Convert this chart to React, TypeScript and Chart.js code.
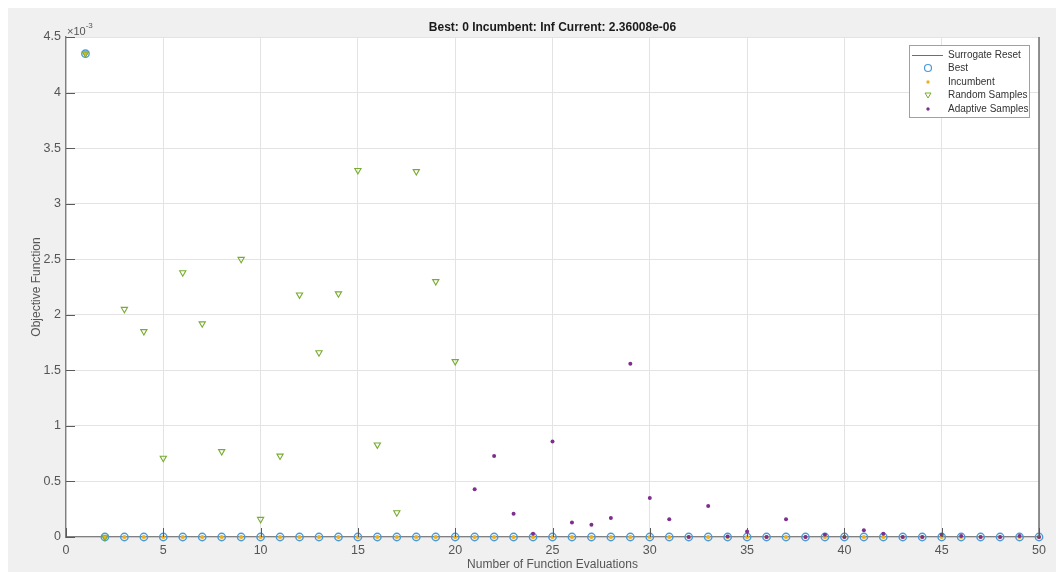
import React, { useEffect, useRef } from "react";
import { Chart, registerables } from "chart.js";

Chart.register(...registerables);

if (typeof document !== "undefined") {
  document.body.style.margin = "8px 0 0 8px";
  document.body.style.overflow = "hidden";
}

const titleText = "Best: 0 Incumbent: Inf Current: 2.36008e-06";
const xAxisLabel = "Number of Function Evaluations";
const yAxisLabel = "Objective Function";
const yExponentBase = "\u00d710";
const yExponent = "-3";

const xMin = 0;
const xMax = 50;
const xStep = 5;
const yMin = 0;
const yMax = 4.5;
const yStep = 0.5;

const seriesLabels = ["Surrogate Reset", "Best", "Incumbent", "Random Samples", "Adaptive Samples"];

// values in units of 1e-3
const resetEvals = [50, 50];
const resetValues = [0, 4.5];

const bestEvals = [1, 2, 3, 4, 5, 6, 7, 8, 9, 10, 11, 12, 13, 14, 15, 16, 17, 18, 19, 20, 21, 22, 23, 24, 25, 26, 27, 28, 29, 30, 31, 32, 33, 34, 35, 36, 37, 38, 39, 40, 41, 42, 43, 44, 45, 46, 47, 48, 49, 50];
const bestValues = [4.35, 0, 0, 0, 0, 0, 0, 0, 0, 0, 0, 0, 0, 0, 0, 0, 0, 0, 0, 0, 0, 0, 0, 0, 0, 0, 0, 0, 0, 0, 0, 0, 0, 0, 0, 0, 0, 0, 0, 0, 0, 0, 0, 0, 0, 0, 0, 0, 0, 0];

const incumbentEvals = [1, 2, 3, 4, 5, 6, 7, 8, 9, 10, 11, 12, 13, 14, 15, 16, 17, 18, 19, 20, 21, 22, 23, 24, 25, 26, 27, 28, 29, 30, 31, 32, 33, 34, 35, 36, 37, 38, 39, 40, 41, 42, 43, 44, 45, 46, 47, 48, 49, 50];
const incumbentValues = [4.35, 0, 0, 0, 0, 0, 0, 0, 0, 0, 0, 0, 0, 0, 0, 0, 0, 0, 0, 0, 0, 0, 0, 0, 0, 0, 0, 0, 0, 0, 0, 0, 0, 0, 0, 0, 0, 0, 0, 0, 0, 0, 0, 0, 0, 0, 0, 0, 0, 0];

const randomEvals = [1, 2, 3, 4, 5, 6, 7, 8, 9, 10, 11, 12, 13, 14, 15, 16, 17, 18, 19, 20];
const randomValues = [4.35, 0, 2.05, 1.85, 0.71, 2.38, 1.92, 0.77, 2.5, 0.16, 0.73, 2.18, 1.66, 2.19, 3.3, 0.83, 0.22, 3.29, 2.3, 1.58];

const adaptiveEvals = [21, 22, 23, 24, 25, 26, 27, 28, 29, 30, 31, 32, 33, 34, 35, 36, 37, 38, 39, 40, 41, 42, 43, 44, 45, 46, 47, 48, 49, 50];
const adaptiveValues = [0.43, 0.73, 0.21, 0.03, 0.86, 0.13, 0.11, 0.17, 1.56, 0.35, 0.16, 0, 0.28, 0.005, 0.05, 0, 0.16, 0, 0.02, 0, 0.06, 0.03, 0, 0, 0.02, 0.01, 0, 0, 0.01, 0];

const FONT = "'Liberation Sans', Arial, Helvetica, sans-serif";
const TEXT = "#555555";

const pts = (xs: number[], ys: number[]) => xs.map((x, i) => ({ x, y: ys[i] }));

const decorPlugin = {
  id: "decor",
  beforeDraw(chart: any) {
    const { ctx, width, height, chartArea } = chart;
    ctx.save();
    ctx.fillStyle = "#f0f0f0";
    ctx.fillRect(0, 0, width, height);
    ctx.fillStyle = "#ffffff";
    ctx.fillRect(chartArea.left, chartArea.top, chartArea.right - chartArea.left, chartArea.bottom - chartArea.top);
    ctx.restore();
  },
  afterDraw(chart: any) {
    const { ctx, chartArea, scales } = chart;
    const xs = scales.x;
    const ys = scales.y;
    ctx.save();
    // inward ticks
    ctx.strokeStyle = "#5a5a5a";
    ctx.lineWidth = 1;
    xs.ticks.forEach((t: any) => {
      const px = Math.round(xs.getPixelForValue(t.value)) + 0.5;
      ctx.beginPath();
      ctx.moveTo(px, chartArea.bottom);
      ctx.lineTo(px, chartArea.bottom - 9);
      ctx.stroke();
    });
    ys.ticks.forEach((t: any) => {
      const py = Math.round(ys.getPixelForValue(t.value)) + 0.5;
      ctx.beginPath();
      ctx.moveTo(chartArea.left, py);
      ctx.lineTo(chartArea.left + 9, py);
      ctx.stroke();
    });
    // title
    ctx.fillStyle = "#1a1a1a";
    ctx.font = `bold 12px ${FONT}`;
    ctx.textAlign = "center";
    ctx.textBaseline = "middle";
    ctx.fillText(titleText, (chartArea.left + chartArea.right) / 2, 20);
    // exponent
    ctx.fillStyle = TEXT;
    ctx.textAlign = "left";
    ctx.font = `11px ${FONT}`;
    ctx.fillText(yExponentBase, chartArea.left + 1, chartArea.top - 5);
    const bw = ctx.measureText(yExponentBase).width;
    ctx.font = `8px ${FONT}`;
    ctx.fillText(yExponent, chartArea.left + 1 + bw, chartArea.top - 11);

    // legend
    const lx = 901, ly = 37, lw = 120, lh = 72;
    ctx.fillStyle = "#ffffff";
    ctx.fillRect(lx, ly, lw, lh);
    ctx.strokeStyle = "#a0a0a0";
    ctx.lineWidth = 1;
    ctx.strokeRect(lx + 0.5, ly + 0.5, lw, lh);
    const rowY = [47, 60, 74, 87, 101];
    const symX = 920;
    const textX = 940;
    ctx.font = `10px ${FONT}`;
    ctx.textBaseline = "middle";
    chart.data.datasets.forEach((ds: any, i: number) => {
      const y = rowY[i];
      if (ds.showLine) {
        ctx.strokeStyle = ds.borderColor;
        ctx.lineWidth = 1;
        ctx.beginPath();
        ctx.moveTo(904, y + 0.5);
        ctx.lineTo(935, y + 0.5);
        ctx.stroke();
      } else if (ds.pointStyle === "triangle") {
        ctx.strokeStyle = ds.borderColor;
        ctx.lineWidth = 1;
        ctx.beginPath();
        ctx.moveTo(symX - 3, y - 2);
        ctx.lineTo(symX + 3, y - 2);
        ctx.lineTo(symX, y + 3);
        ctx.closePath();
        ctx.stroke();
      } else if (ds.pointBackgroundColor === "transparent") {
        ctx.strokeStyle = ds.borderColor;
        ctx.lineWidth = 1.2;
        ctx.beginPath();
        ctx.arc(symX, y, 3.5, 0, Math.PI * 2);
        ctx.stroke();
      } else {
        ctx.fillStyle = ds.pointBackgroundColor;
        ctx.beginPath();
        ctx.arc(symX, y, 1.7, 0, Math.PI * 2);
        ctx.fill();
      }
      ctx.fillStyle = "#333333";
      ctx.textAlign = "left";
      ctx.fillText(ds.label, textX, y + 0.5);
    });
    ctx.restore();
  },
};

export default function App() {
  const ref = useRef<HTMLCanvasElement | null>(null);
  useEffect(() => {
    document.body.style.margin = "8px 0 0 8px";
    document.body.style.overflow = "hidden";
    if (!ref.current) return;
    const chart = new Chart(ref.current, {
      type: "scatter",
      data: {
        datasets: [
          {
            label: seriesLabels[0],
            data: pts(resetEvals, resetValues),
            showLine: true,
            borderColor: "#6e6e6e",
            borderWidth: 1.5,
            pointRadius: 0,
            clip: false,
            order: 0,
          } as any,
          {
            label: seriesLabels[1],
            data: pts(bestEvals, bestValues),
            showLine: false,
            pointStyle: "circle",
            pointRadius: 3.7,
            borderColor: "#4a9ad8",
            pointBorderColor: "#4a9ad8",
            pointBackgroundColor: "transparent",
            pointBorderWidth: 1.4,
            clip: false,
            order: 4,
          },
          {
            label: seriesLabels[2],
            data: pts(incumbentEvals, incumbentValues),
            showLine: false,
            pointStyle: "circle",
            pointRadius: 2.1,
            borderColor: "#EDB120",
            pointBorderColor: "#EDB120",
            pointBackgroundColor: "#EDB120",
            pointBorderWidth: 0,
            clip: false,
            order: 3,
          },
          {
            label: seriesLabels[3],
            data: pts(randomEvals, randomValues),
            showLine: false,
            pointStyle: "triangle",
            rotation: 180,
            pointRadius: 3.6,
            borderColor: "#77AC30",
            pointBorderColor: "#77AC30",
            pointBackgroundColor: "transparent",
            pointBorderWidth: 1.1,
            clip: false,
            order: 2,
          },
          {
            label: seriesLabels[4],
            data: pts(adaptiveEvals, adaptiveValues),
            showLine: false,
            pointStyle: "circle",
            pointRadius: 2,
            borderColor: "#7E2F8E",
            pointBorderColor: "#7E2F8E",
            pointBackgroundColor: "#7E2F8E",
            pointBorderWidth: 0,
            clip: false,
            order: 1,
          },
        ],
      },
      options: {
        responsive: false,
        animation: false,
        events: [],
        layout: { padding: { top: 29, right: 17, left: 0, bottom: 0 } },
        plugins: {
          legend: { display: false },
          tooltip: { enabled: false },
          title: { display: false },
        },
        scales: {
          x: {
            type: "linear",
            min: xMin,
            max: xMax,
            afterFit: (s: any) => {
              s.height = 35;
            },
            ticks: {
              stepSize: xStep,
              padding: 6,
              color: TEXT,
              font: { family: FONT, size: 12.5 },
              maxRotation: 0,
              callback: (v: any) => String(v),
            },
            grid: { color: "#e3e3e3", lineWidth: 1, drawTicks: false },
            border: { color: "#808080", width: 1.3 },
            title: {
              display: true,
              text: xAxisLabel,
              color: TEXT,
              font: { family: FONT, size: 12 },
              padding: { top: 0, bottom: 0 },
            },
          },
          y: {
            type: "linear",
            min: yMin,
            max: yMax,
            afterFit: (s: any) => {
              s.width = 58;
            },
            ticks: {
              stepSize: yStep,
              padding: 5,
              color: TEXT,
              font: { family: FONT, size: 12.5 },
              callback: (v: any) => String(v),
            },
            grid: { color: "#e3e3e3", lineWidth: 1, drawTicks: false },
            border: { color: "#808080", width: 1.3 },
            title: {
              display: true,
              text: yAxisLabel,
              color: TEXT,
              font: { family: FONT, size: 12 },
              padding: { top: 21, bottom: 21 },
            },
          },
        },
      },
      plugins: [decorPlugin],
    } as any);
    return () => chart.destroy();
  }, []);
  return (
    <div style={{ width: 1048, height: 564 }}>
      <canvas ref={ref} width={1048} height={564} style={{ display: "block", width: 1048, height: 564 }} />
    </div>
  );
}
